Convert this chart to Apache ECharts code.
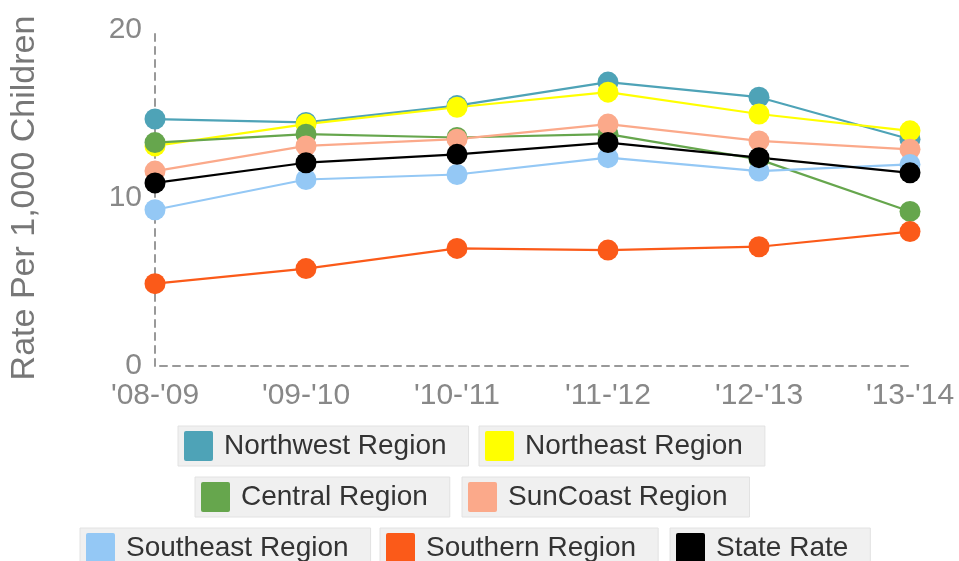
<!DOCTYPE html>
<html>
<head>
<meta charset="utf-8">
<title>Rate Per 1,000 Children by Region</title>
<script src="https://cdn.jsdelivr.net/npm/echarts@6/dist/echarts.min.js"></script>
<style>
  html, body { margin: 0; padding: 0; background: #fff; }
  #chart { width: 959px; height: 561px; }
</style>
</head>
<body>
<div id="chart"></div>
<script>
// Fiscal years on the category axis
const years = ["'08-'09", "'09-'10", "'10-'11", "'11-'12", "'12-'13", "'13-'14"];

// Rates per 1,000 children
const northwest = [14.7, 14.5, 15.5, 16.9, 16.0, 13.5];
const northeast = [13.1, 14.4, 15.4, 16.3, 15.0, 14.0];
const central   = [13.3, 13.8, 13.6, 13.8, 12.3, 9.2];
const sunCoast  = [11.6, 13.1, 13.5, 14.4, 13.4, 12.9];
const southeast = [9.3, 11.1, 11.4, 12.4, 11.6, 12.0];
const southern  = [4.9, 5.8, 7.0, 6.9, 7.1, 8.0];
const stateRate = [10.9, 12.1, 12.6, 13.3, 12.4, 11.5];

const seriesNames = ['Northwest Region', 'Northeast Region', 'Central Region', 'SunCoast Region',
                     'Southeast Region', 'Southern Region', 'State Rate'];
const seriesValues = [northwest, northeast, central, sunCoast, southeast, southern, stateRate];
const seriesColors = ['#4EA3B7', '#FFFF00', '#66A64D', '#FBA98A', '#94C8F5', '#FB5A19', '#000000'];

// Square swatch with slightly softened corners
const swatchIcon = 'path://M2,0 H27 Q29,0 29,2 V28 Q29,30 27,30 H2 Q0,30 0,28 V2 Q0,0 2,0 Z';

// Legend boxes: three centred rows
const legendSlots = [
  { left: 178, top: 426 }, { left: 479, top: 426 },
  { left: 195, top: 477 }, { left: 462, top: 477 },
  { left: 80,  top: 528 }, { left: 380, top: 528 }, { left: 670, top: 528 }
];

const legends = seriesNames.map((name, i) => ({
  data: [name],
  left: legendSlots[i].left,
  top: legendSlots[i].top,
  orient: 'horizontal',
  icon: swatchIcon,
  itemWidth: 29,
  itemHeight: 30,
  itemGap: 0,
  padding: [5, 22, 5, 6],
  backgroundColor: '#f0f0f0',
  borderColor: '#e2e2e2',
  borderWidth: 1,
  selectedMode: false,
  textStyle: {
    fontFamily: 'Liberation Sans, Arial, sans-serif',
    fontSize: 28,
    lineHeight: 30,
    color: '#333',
    padding: [0, 0, 0, 6]
  }
}));

const chart = echarts.init(document.getElementById('chart'), null, { renderer: 'canvas' });

chart.setOption({
  animation: false,
  color: seriesColors,
  legend: legends,
  grid: { left: 155, right: 49, top: 30, bottom: 195, containLabel: false },
  xAxis: {
    type: 'category',
    data: years,
    boundaryGap: false,
    axisLine: { show: true, lineStyle: { color: '#999', width: 2, type: [7, 6], dashOffset: -5 } },
    axisTick: { show: false },
    splitLine: { show: false },
    axisLabel: {
      margin: 15,
      fontFamily: 'Liberation Sans, Arial, sans-serif',
      fontSize: 30,
      color: '#888'
    }
  },
  yAxis: {
    type: 'value',
    min: 0,
    max: 20,
    interval: 10,
    name: 'Rate Per 1,000 Children',
    nameLocation: 'middle',
    nameGap: 113,
    nameTextStyle: {
      fontFamily: 'Liberation Sans, Arial, sans-serif',
      fontSize: 34,
      color: '#777'
    },
    axisLine: { show: true, lineStyle: { color: '#999', width: 2, type: [7, 6] } },
    axisTick: { show: false },
    splitLine: { show: false },
    axisLabel: {
      margin: 13,
      fontFamily: 'Liberation Sans, Arial, sans-serif',
      fontSize: 30,
      color: '#888'
    }
  },
  series: seriesNames.map((name, i) => ({
    name: name,
    type: 'line',
    data: seriesValues[i],
    symbol: 'circle',
    symbolSize: 21,
    showAllSymbol: true,
    lineStyle: { width: 2.2, color: seriesColors[i] },
    itemStyle: { color: seriesColors[i] },
    emphasis: { disabled: true }
  }))
});
</script>
</body>
</html>
